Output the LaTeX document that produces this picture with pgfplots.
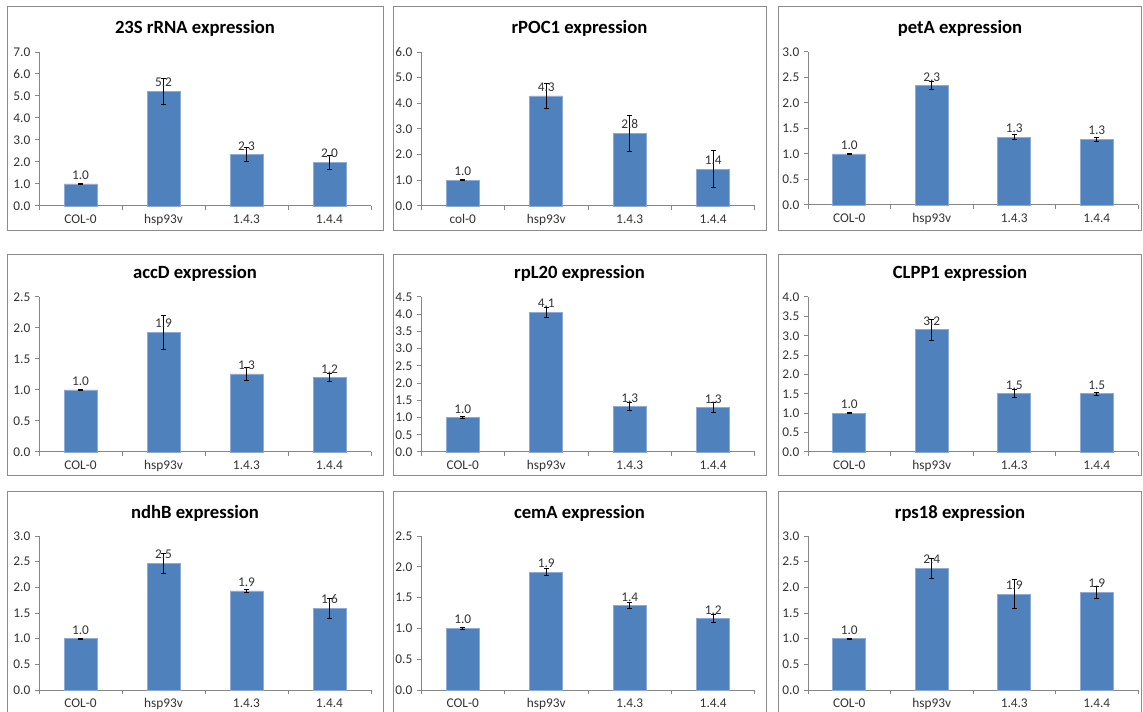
\documentclass[border=0pt]{standalone}
\usepackage{pgfplots}
\pgfplotsset{compat=1.18}
\usepackage{pgfplotstable}
\usepackage{fontspec}
\setmainfont{Carlito}

% one screen pixel
\newlength{\px}\setlength{\px}{0.75pt}

\definecolor{barblue}{HTML}{4F81BD}
\definecolor{baredge}{HTML}{8DABD6}
\definecolor{axisgray}{HTML}{868686}
\definecolor{framegray}{HTML}{8C8C8C}
\definecolor{txt}{HTML}{333333}

% relative expression: mean and error per line
\pgfplotstableread{
x y e
0 1.00 0.02
1 5.22 0.58
2 2.33 0.32
3 1.98 0.33
}\dataRRNA
\pgfplotstableread{
x y e
0 1.00 0.02
1 4.29 0.49
2 2.83 0.72
3 1.44 0.71
}\dataRPOC
\pgfplotstableread{
x y e
0 1.00 0.005
1 2.34 0.08
2 1.33 0.05
3 1.29 0.045
}\dataPETA
\pgfplotstableread{
x y e
0 1.00 0.01
1 1.93 0.27
2 1.26 0.11
3 1.20 0.065
}\dataACCD
\pgfplotstableread{
x y e
0 1.00 0.02
1 4.06 0.15
2 1.32 0.12
3 1.29 0.15
}\dataRPL
\pgfplotstableread{
x y e
0 1.00 0.01
1 3.16 0.27
2 1.51 0.11
3 1.50 0.05
}\dataCLPP
\pgfplotstableread{
x y e
0 1.00 0.01
1 2.47 0.195
2 1.93 0.03
3 1.59 0.195
}\dataNDHB
\pgfplotstableread{
x y e
0 1.00 0.01
1 1.91 0.057
2 1.37 0.046
3 1.16 0.07
}\dataCEMA
\pgfplotstableread{
x y e
0 1.00 0.01
1 2.37 0.20
2 1.87 0.28
3 1.90 0.11
}\dataRPS

\newcommand{\smallfont}{\fontsize{10pt}{12pt}\selectfont}
\newcommand{\titlefont}{\fontsize{14pt}{16pt}\selectfont\bfseries}

\pgfplotsset{
  panel/.style={
    scale only axis, anchor=south west,
    xmin=-0.5, xmax=3.5, ymin=0,
    enlargelimits=false, clip=false,
    axis lines*=left,
    axis line style={axisgray, line width=1\px},
    tick align=outside,
    major tick length=4\px,
    tick style={axisgray, line width=1\px},
    xtick={-0.5,0.5,1.5,2.5,3.5}, xticklabels={},
    extra x ticks={0,1,2,3},
    extra x tick style={major tick length=0pt,
      xticklabel style={font=\smallfont, text=txt, yshift=-4\px}},
    yticklabel style={font=\smallfont, text=txt,
      /pgf/number format/.cd, fixed, fixed zerofill, precision=1},
    /pgf/number format/assume math mode=true,
  },
  bars/.style={
    ybar, bar width=33\px, fill=barblue, draw=baredge, line width=0.75\px,
    nodes near coords={\pgfmathprintnumber[fixed,fixed zerofill,precision=1]{\pgfplotspointmeta}},
    nodes near coords style={font=\smallfont, text=txt, anchor=south, inner sep=0pt, yshift=4\px},
    error bars/.cd, y dir=both, y explicit,
      error bar style={black, line width=0.75\px},
      error mark options={black, line width=0.75\px, mark size=2.5\px, rotate=90},
  },
}

\begin{document}
\begin{tikzpicture}[x=\px, y=\px]
\useasboundingbox (0,0) rectangle (1143,711);
\fill[white] (0,0) rectangle (1143,711);

% panel frames
\begin{scope}[framegray, line width=1\px]
  \draw (7,480) rectangle (383,704);
  \draw (393,480) rectangle (766,704);
  \draw (778,480) rectangle (1141,704);
  \draw (7,235) rectangle (383,456);
  \draw (393,235) rectangle (766,456);
  \draw (778,235) rectangle (1141,456);
  \draw (7,-10) rectangle (383,219);
  \draw (393,-10) rectangle (766,219);
  \draw (778,-10) rectangle (1141,219);
\end{scope}

% titles
\node[font=\titlefont] at (195,683) {23S rRNA expression};
\node[font=\titlefont] at (579.5,683) {rPOC1 expression};
\node[font=\titlefont] at (960,683) {petA expression};
\node[font=\titlefont] at (195,438) {accD expression};
\node[font=\titlefont] at (579.5,438) {rpL20 expression};
\node[font=\titlefont] at (960,438) {CLPP1 expression};
\node[font=\titlefont] at (195,198) {ndhB expression};
\node[font=\titlefont] at (579.5,198) {cemA expression};
\node[font=\titlefont] at (960,198) {rps18 expression};

% row 1
\begin{axis}[panel, at={(39\px,505\px)}, width=332\px, height=154\px,
  ymax=7, ytick distance=1, extra x tick labels={COL-0,hsp93v,1.4.3,1.4.4}]
  \addplot[bars] table[x=x, y=y, y error=e] {\dataRRNA};
\end{axis}
\begin{axis}[panel, at={(421\px,505\px)}, width=334\px, height=154\px,
  ymax=6, ytick distance=1, extra x tick labels={col-0,hsp93v,1.4.3,1.4.4}]
  \addplot[bars] table[x=x, y=y, y error=e] {\dataRPOC};
\end{axis}
\begin{axis}[panel, at={(808\px,506\px)}, width=330\px, height=153\px,
  ymax=3, ytick distance=0.5, extra x tick labels={COL-0,hsp93v,1.4.3,1.4.4}]
  \addplot[bars] table[x=x, y=y, y error=e] {\dataPETA};
\end{axis}

% row 2
\begin{axis}[panel, at={(39\px,259\px)}, width=332\px, height=155\px,
  ymax=2.5, ytick distance=0.5, extra x tick labels={COL-0,hsp93v,1.4.3,1.4.4}]
  \addplot[bars] table[x=x, y=y, y error=e] {\dataACCD};
\end{axis}
\begin{axis}[panel, at={(421\px,259\px)}, width=334\px, height=155\px,
  ymax=4.5, ytick distance=0.5, extra x tick labels={COL-0,hsp93v,1.4.3,1.4.4}]
  \addplot[bars] table[x=x, y=y, y error=e] {\dataRPL};
\end{axis}
\begin{axis}[panel, at={(808\px,259\px)}, width=330\px, height=155\px,
  ymax=4, ytick distance=0.5, extra x tick labels={COL-0,hsp93v,1.4.3,1.4.4}]
  \addplot[bars] table[x=x, y=y, y error=e] {\dataCLPP};
\end{axis}

% row 3
\begin{axis}[panel, at={(39\px,21\px)}, width=332\px, height=154\px,
  ymax=3, ytick distance=0.5, extra x tick labels={COL-0,hsp93v,1.4.3,1.4.4}]
  \addplot[bars] table[x=x, y=y, y error=e] {\dataNDHB};
\end{axis}
\begin{axis}[panel, at={(421\px,21\px)}, width=334\px, height=154\px,
  ymax=2.5, ytick distance=0.5, extra x tick labels={COL-0,hsp93v,1.4.3,1.4.4}]
  \addplot[bars] table[x=x, y=y, y error=e] {\dataCEMA};
\end{axis}
\begin{axis}[panel, at={(808\px,21\px)}, width=330\px, height=154\px,
  ymax=3, ytick distance=0.5, extra x tick labels={COL-0,hsp93v,1.4.3,1.4.4}]
  \addplot[bars] table[x=x, y=y, y error=e] {\dataRPS};
\end{axis}
\end{tikzpicture}
\end{document}
